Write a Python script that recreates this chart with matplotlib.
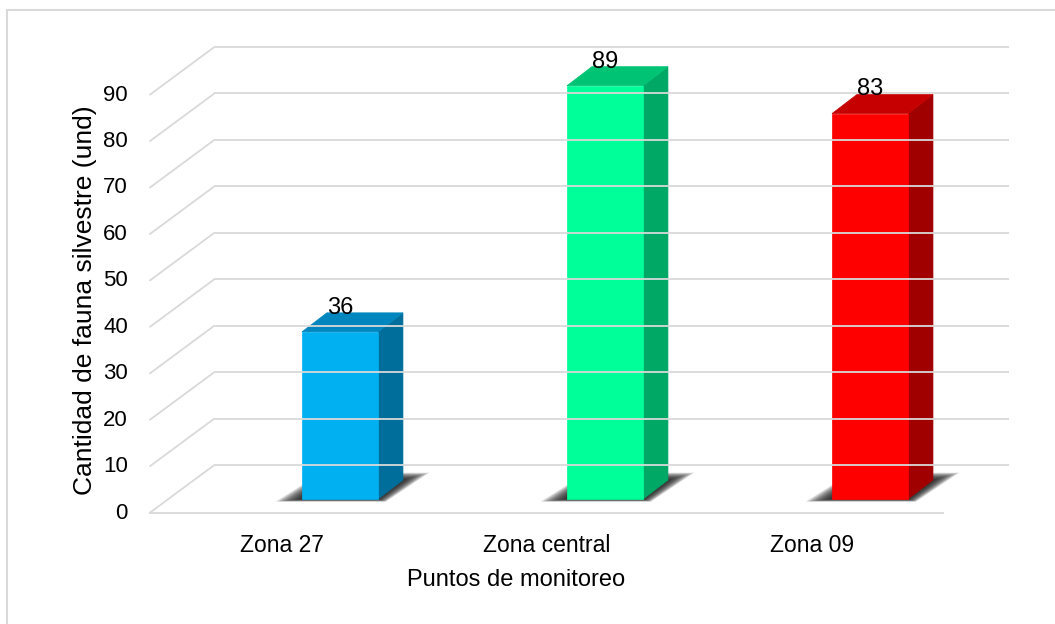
# grafico de barras 3D (estilo Excel) - fauna silvestre por zona
import numpy as np
import matplotlib
matplotlib.use('Agg')
import matplotlib.pyplot as plt
from matplotlib.patches import Polygon
from matplotlib.lines import Line2D

# datos
zonas = ['Zona 27', 'Zona central', 'Zona 09']
cantidad = [36, 89, 83]
ticks = [0, 10, 20, 30, 40, 50, 60, 70, 80, 90]

col_frente = ['#00B0F0', '#00FF99', '#FF0000']
col_lado = ['#006E9A', '#00A866', '#A00000']
col_tapa = ['#0086BE', '#00C474', '#C60000']

plt.rcParams['font.family'] = ['Liberation Sans', 'DejaVu Sans']

fig = plt.figure(figsize = (10.55, 6.24), dpi = 100)
ax = fig.add_axes([0, 0, 1, 1])
ax.set_xlim(-1.064, 2.917)
ax.set_ylim(-23.9, 110.46)
ax.axis('off')

# profundidad del piso (en unidades de categoria / valor)
DX = 0.245
DY = 10.34
grid_col = '#D9D9D9'

# lineas de la cuadricula: diagonal lateral + pared del fondo
for v in ticks:
    ax.plot([-0.5, -0.5 + DX], [v, v + DY], color = grid_col, lw = 1.3,
            solid_capstyle = 'butt')
    ax.plot([-0.5 + DX, 2.5 + DX], [v + DY, v + DY], color = grid_col,
            lw = 1.3, solid_capstyle = 'butt')
    ax.text(-0.581, v, str(v), ha = 'right', va = 'center', fontsize = 16)
# borde frontal del piso
ax.plot([-0.5, 2.5], [0, 0], color = grid_col, lw = 1.3,
        solid_capstyle = 'butt')

# barras
z0 = 3.0        # desplazamiento de la cara frontal
w = 0.287       # ancho
bdx = 0.094     # profundidad de la barra
bdy = 4.1
off = 0.219

for i, v in enumerate(cantidad):
    L = i + off - w / 2
    R = i + off + w / 2
    # sombra difusa en el piso
    n = 16
    for k in range(n):
        t = 1 - k / float(n)
        e = 0.1 * t
        ey = 1.6 * t
        sh = Polygon([(L - e, z0 - ey * 0.35), (R + e * 0.3, z0 - ey * 0.35),
                      (R + bdx + e, z0 + bdy + ey),
                      (L + bdx - e * 0.2, z0 + bdy + ey)],
                     closed = True, facecolor = '#151515', edgecolor = 'none',
                     alpha = 0.11)
        ax.add_patch(sh)
    # cara lateral
    ax.add_patch(Polygon([(R, z0), (R + bdx, z0 + bdy),
                          (R + bdx, z0 + bdy + v), (R, z0 + v)],
                         closed = True, facecolor = col_lado[i],
                         edgecolor = col_lado[i], lw = 0.5))
    # tapa
    ax.add_patch(Polygon([(L, z0 + v), (R, z0 + v),
                          (R + bdx, z0 + v + bdy), (L + bdx, z0 + v + bdy)],
                         closed = True, facecolor = col_tapa[i],
                         edgecolor = col_tapa[i], lw = 0.5))
    # cara frontal
    ax.add_patch(Polygon([(L, z0), (R, z0), (R, z0 + v), (L, z0 + v)],
                         closed = True, facecolor = col_frente[i],
                         edgecolor = col_frente[i], lw = 0.5))
    # etiqueta de datos
    ax.text(i + off, z0 + v + 5.2, str(v), ha = 'center', va = 'center',
            fontsize = 17)
    # etiqueta de categoria
    ax.text(i, -7.1, zonas[i], ha = 'center', va = 'center', fontsize = 16.5)

ax.text(0.883, -14.4, 'Puntos de monitoreo', ha = 'center', va = 'center',
        fontsize = 17)
ax.text(-0.743, 45.9, 'Cantidad de fauna silvestre (und)', ha = 'center',
        va = 'center', rotation = 90, fontsize = 19)

# borde del area del grafico (solo arriba e izquierda visibles)
fig.add_artist(Line2D([7 / 1055.0, 1.0], [1 - 10 / 624.0, 1 - 10 / 624.0],
                      transform = fig.transFigure, color = grid_col, lw = 1.5))
fig.add_artist(Line2D([7 / 1055.0, 7 / 1055.0], [0, 1 - 10 / 624.0],
                      transform = fig.transFigure, color = grid_col, lw = 1.5))

fig.savefig('out.png', dpi = 100)
